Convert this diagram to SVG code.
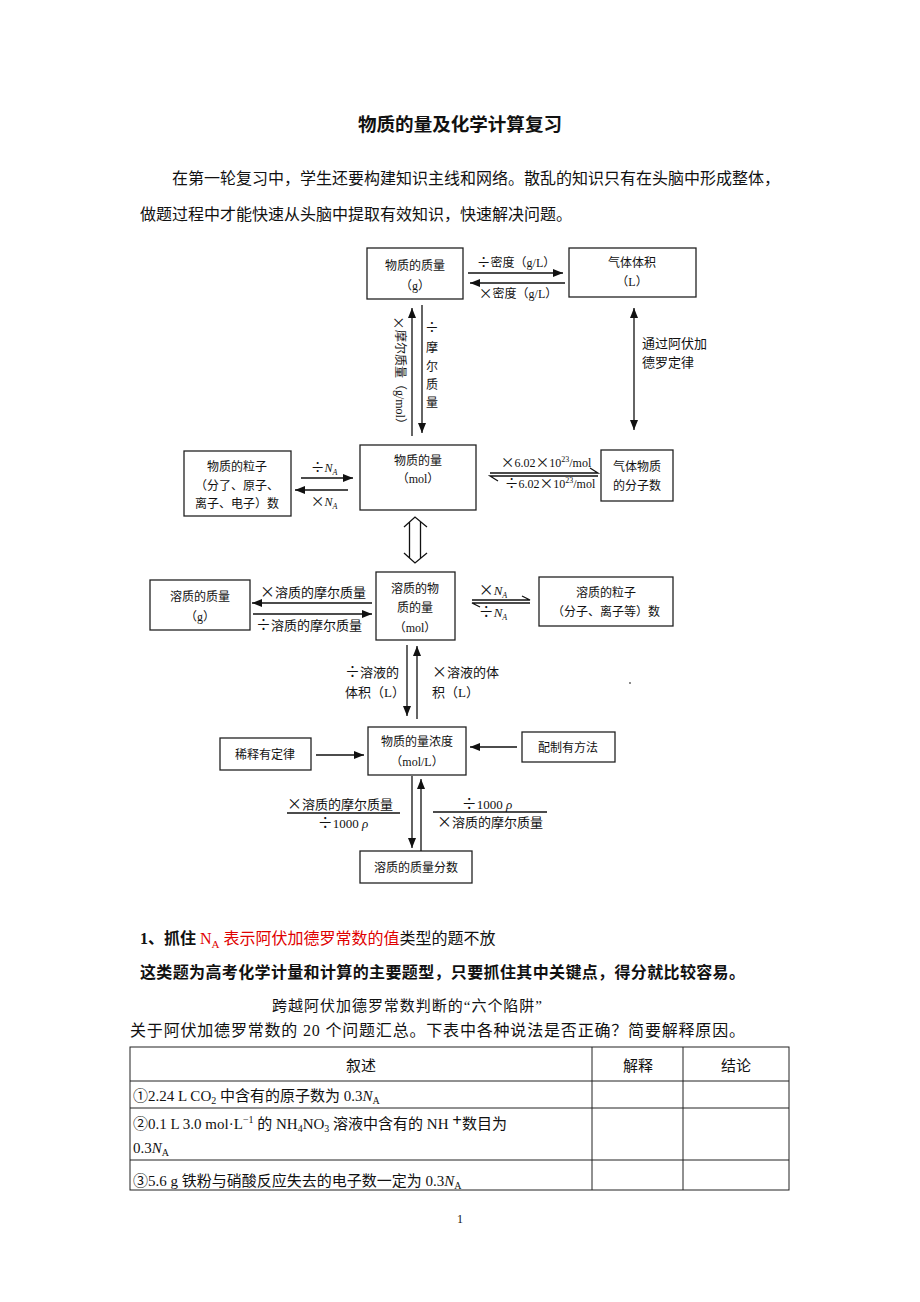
<svg xmlns="http://www.w3.org/2000/svg" width="920" height="1302" viewBox="0 0 920 1302">
<style>
text{font-family:"Liberation Serif","Noto Sans CJK SC",serif;fill:#111}
.d{font-size:12px}
.d13{font-size:13px}
.c{text-anchor:middle}
.op{font-family:"Noto Sans CJK SC",sans-serif;font-size:1.15em}
.box{fill:#fff;stroke:#222;stroke-width:1.3}
.ln{stroke:#111;stroke-width:1.3;fill:none}
.body{font-size:16px}
.tb{font-size:15px}
.grid{stroke:#222;stroke-width:1;fill:none}
.it{font-style:italic}
</style>
<defs>
<marker id="ah" markerUnits="userSpaceOnUse" markerWidth="10" markerHeight="8" viewBox="0 0 10 8" refX="10" refY="4" orient="auto-start-reverse"><path d="M0,0 L10,4 L0,8 z" fill="#111"/></marker>
</defs>
<rect width="920" height="1302" fill="#fff"/>

<g id="header">
<text x="460" y="131" class="c" style="font-size:18px;font-weight:bold" textLength="204" lengthAdjust="spacingAndGlyphs">物质的量及化学计算复习</text>
<text x="172" y="184" class="body" textLength="608" lengthAdjust="spacing">在第一轮复习中，学生还要构建知识主线和网络。散乱的知识只有在头脑中形成整体，</text>
<text x="140" y="220" class="body">做题过程中才能快速从头脑中提取有效知识，快速解决问题。</text>
</g>

<g id="n1"><rect class="box" x="367" y="248" width="96" height="51"/><text class="d c" x="415" y="270">物质的质量</text><text class="d c" x="415" y="290">（g）</text></g>
<g id="n2"><rect class="box" x="569" y="248" width="127" height="49"/><text class="d c" x="632" y="267">气体体积</text><text class="d c" x="632" y="286">（L）</text></g>
<g id="n3"><rect class="box" x="184" y="451" width="107" height="65"/><text class="d c" x="237" y="471">物质的粒子</text><text class="d c" x="237" y="490">（分了、原子、</text><text class="d c" x="237" y="508">离子、电子）数</text></g>
<g id="n4"><rect class="box" x="360" y="445" width="116" height="65"/><text class="d c" x="418" y="465">物质的量</text><text class="d c" x="418" y="483">（mol）</text></g>
<g id="n5"><rect class="box" x="601" y="450" width="72" height="51"/><text class="d c" x="637" y="471">气体物质</text><text class="d c" x="637" y="490">的分子数</text></g>
<g id="n6"><rect class="box" x="150" y="580" width="100" height="50"/><text class="d c" x="200" y="601">溶质的质量</text><text class="d c" x="200" y="621">（g）</text></g>
<g id="n7"><rect class="box" x="376" y="572" width="79" height="68"/><text class="d c" x="415" y="593">溶质的物</text><text class="d c" x="415" y="612">质的量</text><text class="d c" x="415" y="632">（mol）</text></g>
<g id="n8"><rect class="box" x="539" y="577" width="134" height="49"/><text class="d c" x="606" y="597">溶质的粒子</text><text class="d c" x="606" y="616">（分子、离子等）数</text></g>
<g id="n9"><rect class="box" x="368" y="727" width="98" height="48"/><text class="d c" x="417" y="746">物质的量浓度</text><text class="d c" x="417" y="766">（mol/L）</text></g>
<g id="n10"><rect class="box" x="220" y="738" width="91" height="32"/><text class="d c" x="265" y="759">稀释有定律</text></g>
<g id="n11"><rect class="box" x="522" y="732" width="93" height="30"/><text class="d c" x="568" y="752">配制有方法</text></g>
<g id="n12"><rect class="box" x="360" y="851" width="112" height="32"/><text class="d c" x="416" y="872">溶质的质量分数</text></g>

<g id="connectors">
<line class="ln" x1="468" y1="273" x2="563" y2="273" marker-end="url(#ah)"/>
<text class="d c" x="516" y="267"><tspan class="op">÷</tspan>密度（g/L）</text>
<line class="ln" x1="565" y1="283" x2="470" y2="283" marker-end="url(#ah)"/>
<text class="d c" x="518" y="298"><tspan class="op">×</tspan>密度（g/L）</text>

<line class="ln" x1="412" y1="436" x2="412" y2="308" marker-end="url(#ah)"/>
<text class="d c" x="400" y="373" transform="rotate(90 400 373)" dominant-baseline="central"><tspan class="op">×</tspan>摩尔质量（g/mol）</text>
<line class="ln" x1="422" y1="305" x2="422" y2="433" marker-end="url(#ah)"/>
<text class="d c" x="432" y="332"><tspan class="op">÷</tspan></text>
<text class="d c" x="432" y="352">摩</text>
<text class="d c" x="432" y="371">尔</text>
<text class="d c" x="432" y="389">质</text>
<text class="d c" x="432" y="407">量</text>

<line class="ln" x1="634" y1="308" x2="634" y2="430" marker-start="url(#ah)" marker-end="url(#ah)"/>
<text class="d13" x="642" y="348">通过阿伏加</text>
<text class="d13" x="642" y="367">德罗定律</text>

<line class="ln" x1="301" y1="478" x2="353" y2="478" marker-end="url(#ah)"/>
<text class="d c" x="324" y="472"><tspan class="op">÷</tspan><tspan class="it">N</tspan><tspan class="it" font-size="8" dy="3">A</tspan></text>
<line class="ln" x1="348" y1="490" x2="295" y2="490" marker-end="url(#ah)"/>
<text class="d c" x="324" y="506"><tspan class="op">×</tspan><tspan class="it">N</tspan><tspan class="it" font-size="8" dy="3">A</tspan></text>

<path class="ln" d="M490,473 H598 L590,468 M598,476 H490 L498,481"/>
<text class="d c" x="546" y="467"><tspan class="op">×</tspan>6.02<tspan class="op">×</tspan>10<tspan font-size="8" dy="-5">23</tspan><tspan dy="5">/mol</tspan></text>
<text class="d c" x="550" y="488"><tspan class="op">÷</tspan>6.02<tspan class="op">×</tspan>10<tspan font-size="8" dy="-5">23</tspan><tspan dy="5">/mol</tspan></text>

<path class="ln" d="M404,527 L415,517 L427,527 M409.5,522 V558 M420.5,522 V558 M404,553 L415,563 L427,553"/>

<line class="ln" x1="372" y1="603" x2="252" y2="603" marker-end="url(#ah)"/>
<text class="d13 c" x="313" y="597"><tspan class="op">×</tspan>溶质的摩尔质量</text>
<line class="ln" x1="253" y1="614" x2="372" y2="614" marker-end="url(#ah)"/>
<text class="d13 c" x="309" y="630"><tspan class="op">÷</tspan>溶质的摩尔质量</text>

<path class="ln" d="M472,600 H530 L522,596 M530,603 H472 L480,607"/>
<text class="d13 c" x="493" y="595"><tspan class="op">×</tspan><tspan class="it">N</tspan><tspan class="it" font-size="8" dy="3">A</tspan></text>
<text class="d13 c" x="493" y="617"><tspan class="op">÷</tspan><tspan class="it">N</tspan><tspan class="it" font-size="8" dy="3">A</tspan></text>

<line class="ln" x1="407" y1="645" x2="407" y2="716" marker-end="url(#ah)"/>
<text class="d13" x="345" y="677"><tspan class="op">÷</tspan>溶液的</text>
<text class="d13" x="345" y="697">体积（L）</text>
<line class="ln" x1="417" y1="719" x2="417" y2="646" marker-end="url(#ah)"/>
<text class="d13" x="432" y="677"><tspan class="op">×</tspan>溶液的体</text>
<text class="d13" x="432" y="697">积（L）</text>
<circle cx="630" cy="683" r="0.9" fill="#555"/>

<line class="ln" x1="316" y1="755" x2="364" y2="755" marker-end="url(#ah)"/>
<line class="ln" x1="517" y1="747" x2="470" y2="747" marker-end="url(#ah)"/>

<line class="ln" x1="412" y1="776" x2="412" y2="848" marker-end="url(#ah)"/>
<line class="ln" x1="421" y1="851" x2="421" y2="779" marker-end="url(#ah)"/>
<text class="d13 c" x="340" y="809"><tspan class="op">×</tspan>溶质的摩尔质量</text>
<line class="ln" x1="287" y1="813" x2="400" y2="813"/>
<text class="d13 c" x="343" y="828"><tspan class="op">÷</tspan>1000 <tspan class="it">ρ</tspan></text>
<text class="d13 c" x="487" y="809"><tspan class="op">÷</tspan>1000 <tspan class="it">ρ</tspan></text>
<line class="ln" x1="433" y1="812" x2="547" y2="812"/>
<text class="d13 c" x="490" y="827"><tspan class="op">×</tspan>溶质的摩尔质量</text>
</g>

<g id="text-section">
<text x="140" y="944" class="body"><tspan font-weight="bold">1、抓住</tspan><tspan fill="#e00000" style="fill:#e00000"> N<tspan font-size="11" dy="4">A</tspan><tspan dy="-4"> 表示阿伏加德罗常数的值</tspan></tspan>类型的题不放</text>
<text x="140" y="978" class="body" font-weight="bold" textLength="605" lengthAdjust="spacing">这类题为高考化学计量和计算的主要题型，只要抓住其中关键点，得分就比较容易。</text>
<text x="272" y="1011" style="font-size:15px" textLength="270" lengthAdjust="spacing">跨越阿伏加德罗常数判断的“六个陷阱”</text>
<text x="130" y="1036" class="body" textLength="615" lengthAdjust="spacing">关于阿伏加德罗常数的 20 个问题汇总。下表中各种说法是否正确？简要解释原因。</text>
</g>

<g id="table">
<rect class="grid" x="130" y="1047" width="659" height="143"/>
<line class="grid" x1="130" y1="1081" x2="789" y2="1081"/>
<line class="grid" x1="130" y1="1108" x2="789" y2="1108"/>
<line class="grid" x1="130" y1="1160" x2="789" y2="1160"/>
<line class="grid" x1="592" y1="1047" x2="592" y2="1190"/>
<line class="grid" x1="683" y1="1047" x2="683" y2="1190"/>
<text class="tb c" x="361" y="1071">叙述</text>
<text class="tb c" x="638" y="1071">解释</text>
<text class="tb c" x="736" y="1071">结论</text>
<text class="tb" x="133" y="1101"><tspan font-family="Noto Sans CJK SC">①</tspan>2.24 L CO<tspan font-size="10" dy="3">2</tspan><tspan dy="-3"> 中含有的原子数为 0.3</tspan><tspan class="it">N</tspan><tspan font-size="10" dy="3">A</tspan></text>
<text class="tb" x="133" y="1129"><tspan font-family="Noto Sans CJK SC">②</tspan>0.1 L 3.0 mol·L<tspan font-size="10" dy="-6">−1</tspan><tspan dy="6"> 的 NH</tspan><tspan font-size="10" dy="3">4</tspan><tspan dy="-3">NO</tspan><tspan font-size="10" dy="3">3</tspan><tspan dy="-3"> 溶液中含有的 NH </tspan><tspan font-weight="bold" font-size="17" dy="-3">+</tspan><tspan dy="3">数目为</tspan></text>
<text class="tb" x="133" y="1153">0.3<tspan class="it">N</tspan><tspan font-size="10" dy="3">A</tspan></text>
<text class="tb" x="133" y="1186"><tspan font-family="Noto Sans CJK SC">③</tspan>5.6 g 铁粉与硝酸反应失去的电子数一定为 0.3<tspan class="it">N</tspan><tspan font-size="10" dy="3">A</tspan></text>
</g>

<g id="footer"><text x="460" y="1223" class="c" style="font-size:12px">1</text></g>
</svg>
